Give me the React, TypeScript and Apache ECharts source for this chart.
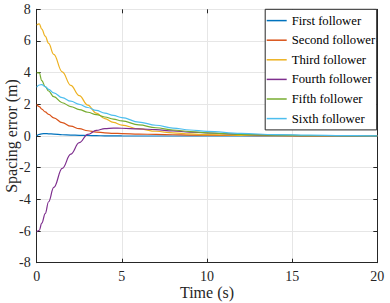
import React, { useEffect, useRef } from "react";
import * as echarts from "echarts";

const time = [0, 0.15, 0.3, 0.5, 0.7, 1, 1.5, 2, 2.5, 3, 3.5, 4, 4.5, 5, 6, 7, 8, 9, 10, 12, 14, 16, 18, 20];
const seriesNames = ["First follower", "Second follower", "Third follower", "Fourth follower", "Fifth follower", "Sixth follower"];
const first = [0.0, 0.1, 0.14, 0.15, 0.14, 0.12, 0.08, 0.06, 0.04, 0.03, 0.02, 0.01, 0.005, 0.002, 0, 0, 0, 0, 0, 0, 0, 0, 0, 0];
const second = [2.0, 1.85, 1.7, 1.52, 1.36, 1.15, 0.84, 0.62, 0.46, 0.33, 0.25, 0.2, 0.17, 0.15, 0.12, 0.1, 0.08, 0.06, 0.05, 0.03, 0.015, 0.008, 0.004, 0.002];
const third = [7.0, 7.08, 6.75, 6.3, 5.85, 5.15, 4.05, 3.2, 2.55, 1.95, 1.45, 1.1, 0.86, 0.69, 0.45, 0.3, 0.2, 0.13, 0.085, 0.04, 0.02, 0.01, 0.005, 0.002];
const fourth = [-6.05, -5.95, -5.5, -4.9, -4.15, -3.25, -2.05, -1.15, -0.42, 0.1, 0.35, 0.47, 0.5, 0.49, 0.45, 0.4, 0.32, 0.25, 0.19, 0.1, 0.05, 0.025, 0.012, 0.006];
const fifth = [4.0, 3.98, 3.5, 3.12, 2.84, 2.48, 2.1, 1.86, 1.67, 1.5, 1.35, 1.2, 1.07, 0.95, 0.7, 0.52, 0.38, 0.28, 0.2, 0.1, 0.05, 0.025, 0.012, 0.006];
const sixth = [3.08, 3.22, 3.25, 3.12, 2.95, 2.72, 2.42, 2.2, 2.0, 1.8, 1.62, 1.45, 1.3, 1.16, 0.88, 0.68, 0.5, 0.38, 0.29, 0.16, 0.09, 0.05, 0.025, 0.012];
const colors = ["#0072BD", "#D95319", "#EDB120", "#7E2F8E", "#77AC30", "#4DBEEE"];
const xTicks = { min: 0, max: 20, interval: 5 };
const yTicks = { min: -8, max: 8, interval: 2 };

const FONT = "Liberation Serif, Times New Roman, serif";
const AX = "#262626";

export default function App() {
  const ref = useRef<HTMLDivElement>(null);
  useEffect(() => {
    if (!ref.current) return;
    const chart = echarts.init(ref.current, undefined, { renderer: "svg" });
    const all = [first, second, third, fourth, fifth, sixth];
    const tickStyle = { show: true, inside: true, length: 4, lineStyle: { color: AX, width: 1 } };
    chart.setOption({
      animation: false,
      color: colors,
      textStyle: { fontFamily: FONT },
      grid: { left: 36.7, right: 12.7, top: 9.3, bottom: 40.3, containLabel: false, outerBoundsMode: "none" },
      legend: {
        orient: "vertical",
        right: 13.3,
        top: 9.3,
        backgroundColor: "#ffffff",
        borderColor: AX,
        borderWidth: 1,
        borderRadius: 0,
        padding: [4.3, 1.5, 4.3, 1.5],
        itemGap: 5.6,
        itemWidth: 20,
        itemHeight: 1.5,
        icon: "rect",
        data: seriesNames,
        textStyle: { fontFamily: FONT, fontSize: 12.7, color: "#000", lineHeight: 14 },
      },
      xAxis: [
        {
          type: "value",
          min: xTicks.min,
          max: xTicks.max,
          interval: xTicks.interval,
          name: "Time (s)",
          nameLocation: "middle",
          nameGap: 22,
          nameMoveOverlap: false,
          nameTextStyle: { fontFamily: FONT, fontSize: 16, color: AX },
          axisLine: { show: true, onZero: false, lineStyle: { color: AX, width: 1 } },
          axisTick: tickStyle,
          axisLabel: { fontFamily: FONT, fontSize: 14, color: AX, margin: 7 },
          splitLine: { show: true, lineStyle: { color: "#e6e6e6", width: 1 } },
        },
        {
          type: "value",
          position: "top",
          min: xTicks.min,
          max: xTicks.max,
          interval: xTicks.interval,
          axisLine: { show: false, onZero: false },
          axisTick: tickStyle,
          axisLabel: { show: false },
          splitLine: { show: false },
        },
      ],
      yAxis: [
        {
          type: "value",
          min: yTicks.min,
          max: yTicks.max,
          interval: yTicks.interval,
          name: "Spacing error (m)",
          nameLocation: "middle",
          nameGap: 17,
          nameMoveOverlap: false,
          nameTextStyle: { fontFamily: FONT, fontSize: 16, color: AX },
          axisLine: { show: true, onZero: false, lineStyle: { color: AX, width: 1 } },
          axisTick: tickStyle,
          axisLabel: { fontFamily: FONT, fontSize: 14, color: AX, margin: 6 },
          splitLine: { show: true, lineStyle: { color: "#e6e6e6", width: 1 } },
        },
        {
          type: "value",
          position: "right",
          min: yTicks.min,
          max: yTicks.max,
          interval: yTicks.interval,
          axisLine: { show: true, onZero: false, lineStyle: { color: AX, width: 1 } },
          axisTick: tickStyle,
          axisLabel: { show: false },
          splitLine: { show: false },
        },
      ],
      series: all.map((vals, i) => ({
        name: seriesNames[i],
        type: "line",
        xAxisIndex: 0,
        yAxisIndex: 0,
        showSymbol: false,
        symbol: "none",
        smooth: 0.4,
        smoothMonotone: "x",
        lineStyle: { width: 1.2, color: colors[i] },
        itemStyle: { color: colors[i] },
        data: time.map((t, k) => [t, vals[k]]),
      })),
    });
    return () => chart.dispose();
  }, []);
  return <div ref={ref} style={{ width: 390, height: 303, position: "absolute", left: 0, top: 0 }} />;
}
